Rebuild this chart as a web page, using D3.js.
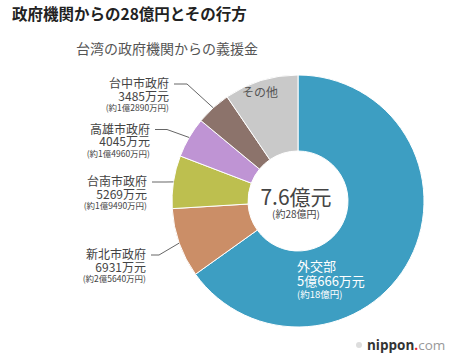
<!DOCTYPE html>
<html>
<head>
<meta charset="utf-8">
<script src="https://cdn.jsdelivr.net/npm/d3@7"></script>
<style>
  html, body { margin: 0; padding: 0; background: #fff; }
  svg { display: block; font-family: "Noto Sans CJK JP", "Noto Sans", sans-serif; }
</style>
</head>
<body>
<svg id="chart" width="476" height="360"></svg>
<script>
// ---- data (万元) ----
const categories = ["外交部", "新北市政府", "台南市政府", "高雄市政府", "台中市政府", "その他"];
const valuesMan = [50666, 6931, 5269, 4045, 3485, 7400];
const amountLabels = ["5億666万元", "6931万元", "5269万元", "4045万元", "3485万元", ""];
const yenLabels = ["(約18億円)", "(約2億5640万円)", "(約1億9490万円)", "(約1億4960万円)", "(約1億2890万円)", ""];
const totalLabel = "7.6億元";
const totalYenLabel = "(約28億円)";
const titleText = "政府機関からの28億円とその行方";
const subtitleText = "台湾の政府機関からの義援金";

// ---- styles ----
const colors = ["#3d9ec2", "#cb8e67", "#bdbf4f", "#bf94d4", "#8c736b", "#c9c9c9"];
const cx = 298, cy = 201, R = 126, r = 50;

// outside label layout (index -> text right edge, line y, knee x)
const outside = {
  1: { tx: 146, y: 255, x0: 151, knee: 159 },
  2: { tx: 147, y: 182, x0: 152, knee: 166 },
  3: { tx: 150, y: 129.5, x0: 155, knee: 167 },
  4: { tx: 169, y: 84, x0: 174, knee: 187 }
};

const svg = d3.select("#chart");

svg.append("text").attr("x", 12).attr("y", 20)
  .attr("font-size", 15.5).attr("font-weight", "bold").attr("fill", "#222")
  .text(titleText);
svg.append("text").attr("x", 76).attr("y", 53.5)
  .attr("font-size", 14).attr("fill", "#555")
  .text(subtitleText);

const data = categories.map((c, i) => ({ name: c, value: valuesMan[i], i }));
const pie = d3.pie().value(d => d.value).sort(null).startAngle(0).endAngle(2 * Math.PI);
const arcs = pie(data);
const arc = d3.arc().innerRadius(r).outerRadius(R);

const g = svg.append("g").attr("transform", `translate(${cx},${cy})`);
g.selectAll("path").data(arcs).join("path")
  .attr("d", arc)
  .attr("fill", d => colors[d.data.i])
  .attr("stroke", "#fff").attr("stroke-width", 1);

// helper: multi-line block in a single text element
function block(x, y, anchor, fill, lines) {
  const t = svg.append("text").attr("text-anchor", anchor).attr("fill", fill);
  lines.forEach(l => {
    t.append("tspan").attr("x", x).attr("y", y + l.dy).attr("font-size", l.size).text(l.text);
  });
  return t;
}

// leader lines + outside labels
arcs.forEach(a => {
  const L = outside[a.data.i];
  if (!L) return;
  const mid = (a.startAngle + a.endAngle) / 2;
  const ex = cx + R * Math.sin(mid), ey = cy - R * Math.cos(mid);
  svg.append("polyline")
    .attr("points", `${L.x0},${L.y} ${L.knee},${L.y} ${ex},${ey}`)
    .attr("fill", "none").attr("stroke", "#666").attr("stroke-width", 1);
  block(L.tx, L.y, "end", "#444", [
    { dy: 4, size: 12, text: a.data.name },
    { dy: 16.5, size: 12, text: amountLabels[a.data.i] },
    { dy: 27, size: 8.5, text: yenLabels[a.data.i] }
  ]);
});

// inside label: 外交部
block(297, 270.5, "start", "#fff", [
  { dy: 0, size: 13, text: arcs[0].data.name },
  { dy: 15.5, size: 13, text: amountLabels[0] },
  { dy: 27.5, size: 9.5, text: yenLabels[0] }
]);

// その他
const other = arcs[5];
const oc = arc.centroid(other);
svg.append("text").attr("x", cx + oc[0] - 12).attr("y", cy + oc[1] - 20)
  .attr("text-anchor", "middle").attr("font-size", 12).attr("fill", "#555")
  .text(other.data.name);

// center
block(cx - 2, cy + 3.5, "middle", "#444", [
  { dy: 0, size: 21, text: totalLabel },
  { dy: 13, size: 10, text: totalYenLabel }
]);

// logo
const lg = svg.append("g");
lg.append("circle").attr("cx", 359).attr("cy", 345).attr("r", 3).attr("fill", "#ddd");
const lt = lg.append("text").attr("x", 367).attr("y", 349.5).attr("font-size", 13.5).attr("font-family", "'Open Sans', 'DejaVu Sans', sans-serif");
lt.append("tspan").attr("font-weight", "bold").attr("fill", "#333").text("nippon");
lt.append("tspan").attr("font-weight", "bold").attr("fill", "#e8202a").text(".");
lt.append("tspan").attr("fill", "#999").text("com");
</script>
</body>
</html>
